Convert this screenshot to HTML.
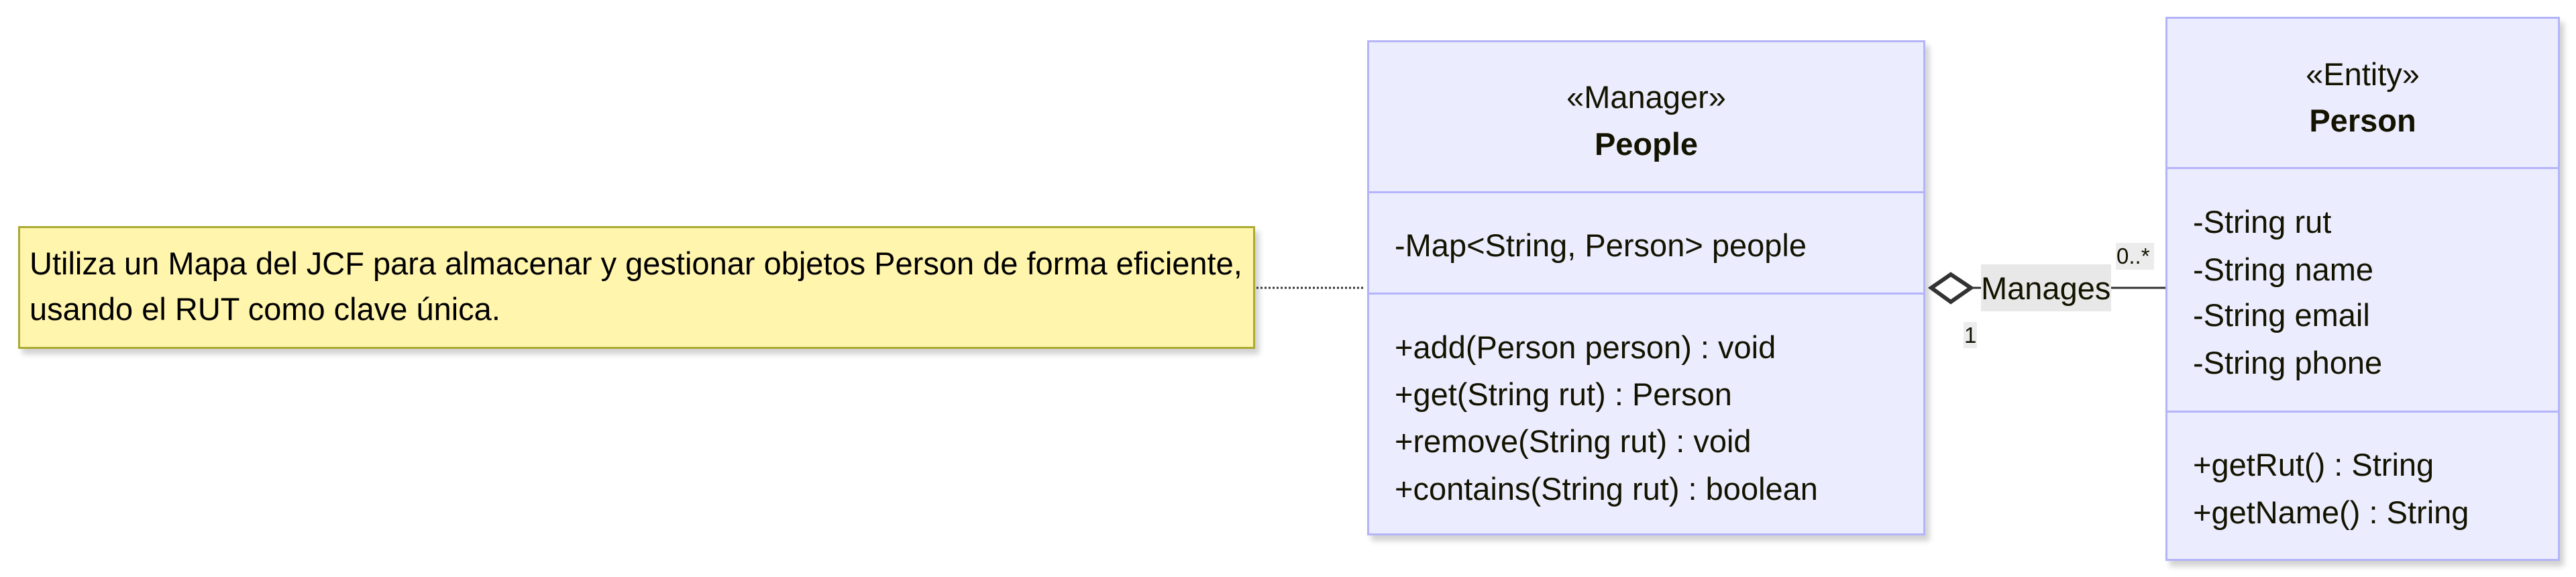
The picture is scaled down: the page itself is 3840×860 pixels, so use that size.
<!DOCTYPE html>
<html><head><meta charset="utf-8"><style>
body{margin:0;width:3840px;height:860px;background:#fff;position:relative;overflow:hidden;font-family:"Liberation Sans",Arial,sans-serif;color:#131300}
.box{position:absolute;background:#ECECFF;border:3px solid #b4b4fa;box-sizing:border-box;box-shadow:6px 8px 8px rgba(0,0,0,0.18)}
.hr{position:absolute;left:0;right:0;height:3px;background:#b4b4fa}
.t{position:absolute;font-size:47px;white-space:nowrap;line-height:1}
.c{text-align:center;left:0;right:0}
</style></head><body>
<!-- note -->
<div style="position:absolute;left:27px;top:337px;width:1844px;height:183px;background:#fff5ad;border:3px solid #aaaa33;box-sizing:border-box;box-shadow:6px 8px 8px rgba(0,0,0,0.18)"></div>
<div class="t" style="left:44px;top:369px;color:#000">Utiliza un Mapa del JCF para almacenar y gestionar objetos Person de forma eficiente,</div>
<div class="t" style="left:44px;top:437px;color:#000">usando el RUT como clave única.</div>
<svg style="position:absolute;left:0;top:0" width="3840" height="860">
<line x1="1873" y1="429" x2="2032" y2="429" stroke="#333" stroke-width="3" stroke-dasharray="3,3"/>
<line x1="2940" y1="429" x2="3230" y2="429" stroke="#333" stroke-width="3"/>
</svg>
<!-- People -->
<div class="box" style="left:2038px;top:60px;width:832px;height:738px">
<div class="hr" style="top:222px"></div>
<div class="hr" style="top:373px"></div>
<div class="t c" style="top:58px">«Manager»</div>
<div class="t c" style="top:128px;font-weight:bold">People</div>
<div class="t" style="left:38px;top:279px">-Map&lt;String, Person&gt; people</div>
<div class="t" style="left:38px;top:431px">+add(Person person) : void</div>
<div class="t" style="left:38px;top:501px">+get(String rut) : Person</div>
<div class="t" style="left:38px;top:571px">+remove(String rut) : void</div>
<div class="t" style="left:38px;top:642px">+contains(String rut) : boolean</div>
</div>
<!-- Person -->
<div class="box" style="left:3228px;top:25px;width:588px;height:811px">
<div class="hr" style="top:221px"></div>
<div class="hr" style="top:584px"></div>
<div class="t c" style="top:59px">«Entity»</div>
<div class="t c" style="top:128px;font-weight:bold">Person</div>
<div class="t" style="left:38px;top:279px">-String rut</div>
<div class="t" style="left:38px;top:350px">-String name</div>
<div class="t" style="left:38px;top:418px">-String email</div>
<div class="t" style="left:38px;top:489px">-String phone</div>
<div class="t" style="left:38px;top:641px">+getRut() : String</div>
<div class="t" style="left:38px;top:712px">+getName() : String</div>
</div>
<!-- relation -->
<svg style="position:absolute;left:0;top:0" width="3840" height="860">
<polygon points="2879,429 2908,409 2938,429 2908,450" fill="#fff" stroke="#333" stroke-width="6" stroke-linejoin="miter"/>
</svg>
<div style="position:absolute;left:2953px;top:394px;width:194px;height:70px;background:#e8e8e8"></div>
<div class="t" style="left:2953px;top:406px;font-size:47px">Manages</div>
<div style="position:absolute;left:3154px;top:362px;width:57px;height:40px;background:#ececec"></div>
<div class="t" style="left:3155px;top:365px;font-size:33px">0..*</div>
<div style="position:absolute;left:2927px;top:480px;width:20px;height:39px;background:#ececec"></div>
<div class="t" style="left:2928px;top:483px;font-size:33px">1</div>
</body></html>
